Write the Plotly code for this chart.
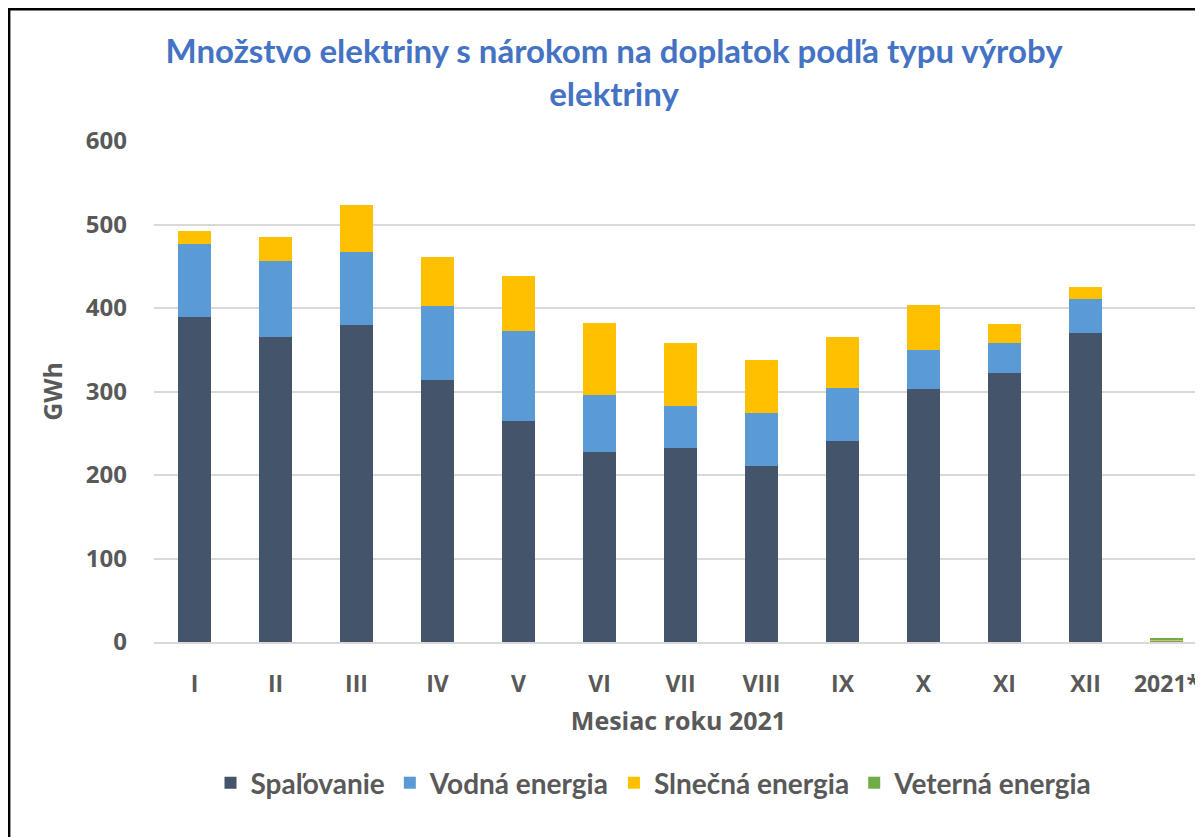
import plotly.graph_objects as go

categories = ["I", "II", "III", "IV", "V", "VI", "VII", "VIII", "IX", "X", "XI", "XII", "2021*"]
spalovanie = [389, 365, 380, 314, 265, 228, 232, 211, 241, 303, 322, 370, 1.0]
vodna = [88, 91, 87, 88, 107, 68, 51, 63, 63, 47, 36, 41, 0.5]
slnecna = [15, 29, 56, 59, 66, 86, 75, 64, 61, 54, 23, 14, 1.7]
veterna = [0, 0, 0, 0, 0, 0, 0, 0, 0, 0, 0, 0, 1.7]

series = [
    ("Spaľovanie", spalovanie, "#44546A"),
    ("Vodná energia", vodna, "#5B9BD5"),
    ("Slnečná energia", slnecna, "#FFC000"),
    ("Veterná energia", veterna, "#70AD47"),
]

# page is offset by 8px body margin
OFF = 8
W, H = 1203 - OFF, 837 - OFF
ML, MR, MT, MB = 154 - OFF, 0, 141 - OFF, 837 - 642
pw = W - ML - MR
ph = H - MT - MB

f_title = "Lato, Noto Sans, sans-serif"
f_axis = "Open Sans, Noto Sans, sans-serif"
grey = "#595959"

fig = go.Figure()
for name, vals, col in series:
    fig.add_trace(go.Bar(
        name=name, x=categories, y=vals,
        marker=dict(color=col, line=dict(width=0)),
    ))

fig.update_layout(
    barmode="stack",
    bargap=0.6,
    width=W, height=H,
    margin=dict(l=ML, r=MR, t=MT, b=MB, autoexpand=False),
    plot_bgcolor="white", paper_bgcolor="white",
    title=dict(
        text="<b>Množstvo elektriny s nárokom na doplatok podľa typu výroby<br>elektriny</b>",
        x=(614 - OFF) / W, xanchor="center", xref="container",
        y=1 - (63 - OFF) / H, yanchor="top", yref="container",
        font=dict(family=f_title, size=33, color="#4472C4"),
    ),
    xaxis=dict(
        range=[-0.5, -0.5 + pw / 81.0],
        tickfont=dict(family=f_axis, size=23, color=grey, weight="bold"),
        tickangle=0,
        title=dict(text="Mesiac roku 2021", font=dict(family=f_axis, size=25, color=grey, weight="bold"), standoff=14),
        showline=True, linecolor="#D9D9D9", linewidth=1.5,
        ticks="", showgrid=False, ticklabelstandoff=21,
    ),
    yaxis=dict(
        range=[0, 600], tick0=0, dtick=100,
        tickfont=dict(family=f_axis, size=24, color=grey, weight="bold"),
        title=dict(text="GWh", font=dict(family=f_axis, size=25, color=grey, weight="bold"), standoff=16),
        gridcolor="#D9D9D9", gridwidth=1.5,
        showline=False, zeroline=False, ticks="", ticklabelstandoff=26,
    ),
    legend=dict(
        orientation="h", x=(654 - OFF) / W, xref="container", xanchor="center",
        y=1 - (783 - OFF) / H, yref="container", yanchor="middle",
        font=dict(family=f_title, size=28, color=grey, weight="bold"),
        itemwidth=30, traceorder="normal",
    ),
    showlegend=True,
)

# outer border lines (top and left) in paper coords
def px_to_paper_x(px):
    return (px - OFF - ML) / pw
def px_to_paper_y(py):
    return (H + OFF - MB - py) / ph

fig.add_shape(type="line", xref="paper", yref="paper",
              x0=px_to_paper_x(9), x1=px_to_paper_x(1210),
              y0=px_to_paper_y(9.2), y1=px_to_paper_y(9.2),
              line=dict(color="black", width=2.4))
fig.add_shape(type="line", xref="paper", yref="paper",
              x0=px_to_paper_x(9.2), x1=px_to_paper_x(9.2),
              y0=px_to_paper_y(8), y1=px_to_paper_y(845),
              line=dict(color="black", width=2.4))

fig.write_html("out.html")
